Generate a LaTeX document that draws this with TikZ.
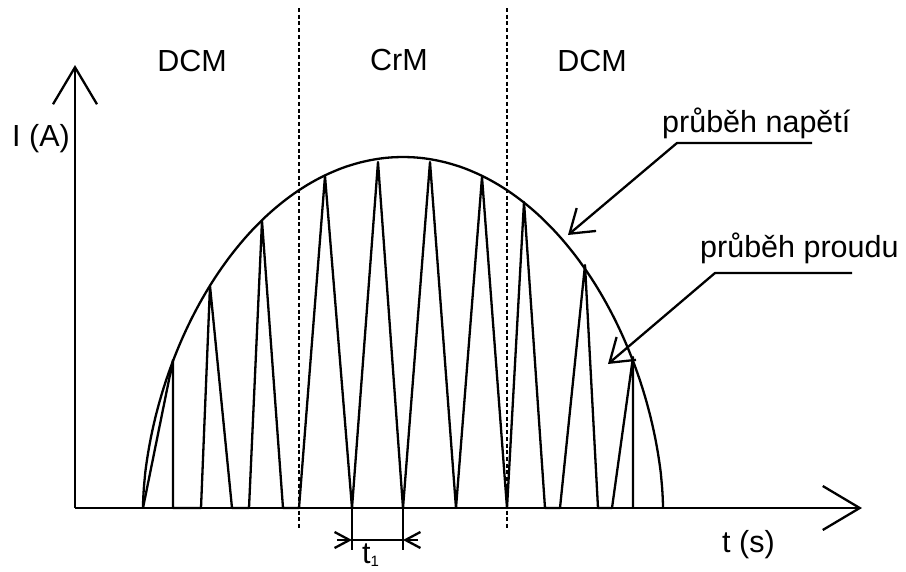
\documentclass[tikz,border=0pt]{standalone}
\usepackage{fontspec}
\setmainfont{Liberation Sans}
\usepackage{tikz}
\usetikzlibrary{arrows.meta,positioning}
\definecolor{figline}{RGB}{0,0,0}
\tikzset{
  axis/.style={draw=figline, line width=2.3pt, -{Straight Barb[length=37pt,width=44pt]}},
  modesep/.style={draw=figline, line width=2.3pt, dash pattern=on 4pt off 2.7pt},
  wave/.style={draw=figline, line width=2.3pt, line join=round},
  envelope/.style={draw=figline, line width=2.3pt},
  pointer/.style={draw=figline, line width=2.3pt, line join=round, -{Straight Barb[length=22pt,width=30pt]}},
  dimline/.style={draw=figline, line width=2.3pt, -{Straight Barb[length=15pt,width=16pt]}},
  plain/.style={draw=figline, line width=2.3pt},
  figlabel/.style={font=\fontsize{30.5}{36}\selectfont, inner sep=0pt, anchor=base}
}

\begin{document}
\begin{tikzpicture}[x=1pt,y=-1pt]
  \useasboundingbox (0,0) rectangle (906,571);

  \coordinate (origin) at (75,508);
  \coordinate (ytop) at (75,65);
  \coordinate (xend) at (862,508);
  \draw[axis] (origin) -- (ytop);
  \draw[axis] (origin) -- (xend);

  \coordinate (sepAtop) at (299,8);
  \coordinate (sepAbot) at (299,528);
  \coordinate (sepBtop) at (507,8);
  \coordinate (sepBbot) at (507,528);
  \draw[modesep] (sepAtop) -- (sepAbot);
  \draw[modesep] (sepBtop) -- (sepBbot);

  \node[figlabel] (dcmleft) at (192,71) {DCM};
  \node[figlabel] (crm) at (399,70) {CrM};
  \node[figlabel] (dcmright) at (592,71) {DCM};
  \node[figlabel, anchor=base west] (ylabel) at (12,146) {I (A)};
  \node[figlabel, anchor=base west] (xlabel) at (722,552) {t (s)};

  \draw[envelope] (143,508) -- plot[domain=0.5:179.5, samples=180] ({403-260*cos(\x)},{508-351*pow(sin(\x),1.14)}) -- (663,508);

  \draw[wave] (143,508) -- (173,360) -- (173,508) -- (201,508) -- (210,286) -- (232,508) -- (249,508)
    -- (262,221) -- (283,508) -- (299,508) -- (325,176) -- (352,508) -- (378,162) -- (403,508)
    -- (430,162) -- (456,508) -- (482,177) -- (507,508) -- (524,202) -- (545,508) -- (560,508)
    -- (585,265) -- (598,508) -- (612,508) -- (633,357) -- (633,508);

  \node[figlabel, anchor=base west] (napeti) at (662,132) {průběh napětí};
  \coordinate (napetiend) at (812,143);
  \coordinate (napetiknee) at (677,143);
  \coordinate (napetitip) at (568,235);
  \draw[pointer] (napetiend) -- (napetiknee) -- (napetitip);

  \node[figlabel, anchor=base west] (proud) at (700,257) {průběh proudu};
  \coordinate (proudend) at (852,273);
  \coordinate (proudknee) at (715,273);
  \coordinate (proudtip) at (608,364);
  \draw[pointer] (proudend) -- (proudknee) -- (proudtip);

  \coordinate (tstart) at (352,508);
  \coordinate (tstop) at (403,508);
  \coordinate (tstartlow) at (352,550);
  \coordinate (tstoplow) at (403,550);
  \coordinate (dimleft) at (352,540);
  \coordinate (dimright) at (403,540);
  \coordinate (dimleftout) at (337,540);
  \coordinate (dimrightout) at (418,540);
  \draw[plain] (tstart) -- (tstartlow);
  \draw[plain] (tstop) -- (tstoplow);
  \draw[plain] (dimleft) -- (dimright);
  \draw[dimline] (dimleftout) -- (dimleft);
  \draw[dimline] (dimrightout) -- (dimright);
  \node[figlabel, anchor=base west] (tone) at (362,563) {t\raisebox{-3pt}{\fontsize{15}{15}\selectfont 1}};
\end{tikzpicture}
\end{document}
